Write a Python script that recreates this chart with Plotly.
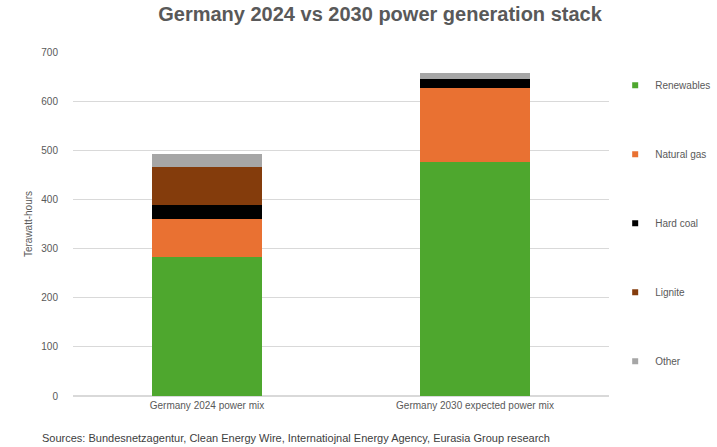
import plotly.graph_objects as go

categories = ["Germany 2024 power mix", "Germany 2030 expected power mix"]
series_names = ["Renewables", "Natural gas", "Hard coal", "Lignite", "Other"]
renewables = [283, 476]
natural_gas = [77, 150]
hard_coal = [28, 19]
lignite = [77, 0]
other = [27, 12]
colors = ["#4EA72E", "#E97132", "#000000", "#843C0C", "#A6A6A6"]
y_ticks = [0, 100, 200, 300, 400, 500, 600, 700]

values = [renewables, natural_gas, hard_coal, lignite, other]

FONT = "Liberation Sans Narrow, Liberation Sans, Arial, sans-serif"

fig = go.Figure()
for name, vals, col in zip(series_names, values, colors):
    fig.add_trace(go.Bar(x=categories, y=vals, name=name, marker_color=col,
                         marker_line_width=0, showlegend=False))
for name, col in zip(series_names, colors):
    fig.add_trace(go.Scatter(x=[None], y=[None], mode="markers", name=name,
                             legendgroup=name,
                             marker=dict(symbol="square", size=6, color=col)))

fig.update_layout(
    barmode="stack",
    bargap=0.59,
    width=717, height=447,
    margin=dict(l=73, r=108, t=52, b=51, autoexpand=False),
    paper_bgcolor="white", plot_bgcolor="white",
    title=dict(text="<b>Germany 2024 vs 2030 power generation stack</b>",
               x=0.53, xanchor="center", y=0.985, yanchor="top",
               font=dict(family="Liberation Sans, Arial, sans-serif", size=20, color="#595959")),
    font=dict(family=FONT, color="#595959", size=10),
    legend=dict(xref="container", yref="container", x=0.858, xanchor="left",
                y=0.842, yanchor="top", maxheight=420,
                tracegroupgap=50, itemwidth=30,
                font=dict(family=FONT, size=10, color="#595959"),
                bgcolor="rgba(0,0,0,0)"),
    yaxis=dict(range=[0, 700], tickvals=y_ticks, showgrid=True, gridcolor="#D9D9D9",
               gridwidth=1, zeroline=True, zerolinecolor="#D9D9D9", showline=False,
               ticks="", ticklabelstandoff=14,
               tickfont=dict(family=FONT, size=10, color="#595959"),
               title=dict(text="Terawatt-hours", standoff=6,
                          font=dict(family=FONT, size=10, color="#595959"))),
    xaxis=dict(showline=True, linecolor="#D9D9D9", ticks="",
               tickfont=dict(family=FONT, size=10, color="#595959")),
)

fig.add_annotation(text="Sources: Bundesnetzagentur, Clean Energy Wire, Internatiojnal Energy Agency, Eurasia Group research",
                   xref="paper", yref="paper", x=-0.062, y=-0.122, xanchor="left", yanchor="middle",
                   showarrow=False, font=dict(family=FONT, size=11, color="#404040"))

fig.write_html("out.html")
